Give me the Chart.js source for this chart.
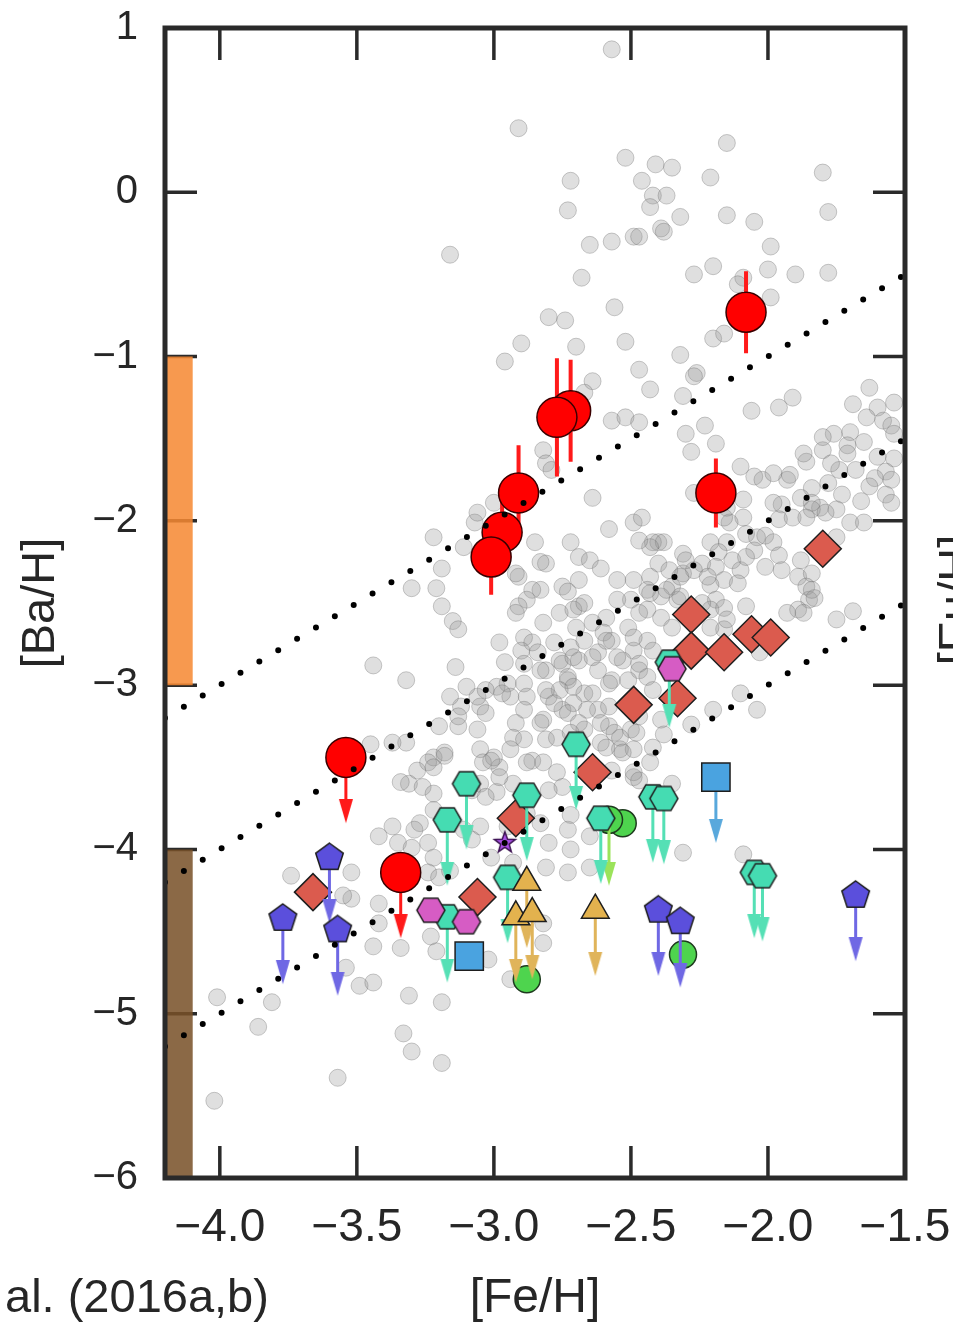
<!DOCTYPE html>
<html lang="en">
<head>
<meta charset="UTF-8">
<title>[Ba/H] vs [Fe/H]</title>
<script src="https://cdn.jsdelivr.net/npm/chart.js"></script>
<style>
  html, body { margin: 0; padding: 0; background: #fff; }
  #wrap { width: 953px; height: 1323px; }
</style>
</head>
<body>
<div id="wrap"><canvas id="chart" width="953" height="1323"></canvas></div>
<script>
// ---- axis ticks ----
const xTicks = [-4.0, -3.5, -3.0, -2.5, -2.0, -1.5];
const yTicks = [1, 0, -1, -2, -3, -4, -5, -6];

// ---- halo comparison stars ([Fe/H], [Ba/H]) ----
const comparisonStars = [
  [-2.57,0.87],[-2.91,0.39],[-2.15,0.30],[-2.52,0.21],[-2.72,0.07],[-2.41,0.17],[-2.35,0.15],[-2.46,0.07],[-2.21,0.09],[-1.80,0.12],
  [-2.42,-0.02],[-2.37,-0.02],[-2.43,-0.09],[-2.73,-0.11],[-2.32,-0.15],[-2.15,-0.14],[-2.05,-0.18],[-1.78,-0.12],[-2.65,-0.32],[-2.57,-0.30],
  [-2.49,-0.27],[-2.47,-0.27],[-2.39,-0.22],[-2.38,-0.24],[-1.99,-0.33],[-2.68,-0.52],[-2.27,-0.50],[-2.20,-0.45],[-2.00,-0.47],[-1.90,-0.50],
  [-1.78,-0.49],[-1.99,-0.64],[-2.09,-0.52],[-2.11,-0.56],[-2.80,-0.76],[-2.74,-0.78],[-2.56,-0.70],[-2.90,-0.92],[-2.70,-0.94],[-2.52,-0.91],
  [-2.32,-0.99],[-2.20,-0.89],[-2.16,-0.86],[-2.96,-1.03],[-2.47,-1.08],[-2.26,-1.10],[-3.16,-0.38],
  [-2.43,-1.20],[-2.31,-1.24],[-2.64,-1.15],[-2.67,-1.22],[-2.57,-1.39],[-2.52,-1.37],[-2.47,-1.40],[-2.30,-1.47],[-2.82,-1.57],[-2.81,-1.65],
  [-2.64,-1.86],[-2.58,-2.05],[-2.49,-2.01],[-3.22,-2.10],[-3.07,-2.01],[-2.85,-2.13],[-2.72,-2.13],[-2.40,-2.13],[-3.00,-1.89],[-3.06,-1.95],
  [-2.79,-1.69],[-2.27,-1.12],
  [-2.06,-1.33],[-1.96,-1.31],[-1.91,-1.25],[-2.23,-1.42],[-2.19,-1.53],[-1.63,-1.19],[-1.69,-1.29],[-1.60,-1.31],[-1.54,-1.28],[-1.64,-1.37],
  [-1.58,-1.39],[-1.55,-1.42],[-1.70,-1.46],[-1.76,-1.47],[-1.80,-1.57],[-1.86,-1.64],[-1.71,-1.54],[-1.65,-1.52],[-1.54,-1.47],[-1.60,-1.61],
  [-1.54,-1.62],[-1.57,-1.70],[-1.71,-1.59],[-1.74,-1.69],[-1.68,-1.69],[-1.61,-1.74],[-1.55,-1.75],[-1.63,-1.79],[-1.57,-1.84],[-1.55,-1.89],
  [-1.66,-1.88],[-1.73,-1.84],[-1.78,-1.77],[-1.84,-1.80],[-1.81,-1.92],[-1.75,-1.93],[-1.70,-2.01],[-1.65,-2.01],[-1.75,-2.10],[-1.93,-1.75],
  [-1.92,-1.72],[-1.88,-1.86],[-1.84,-1.93],[-1.79,-1.95],[-1.84,-1.89],[-1.95,-1.90],[-1.98,-1.89],[-1.96,-1.99],[-1.91,-1.98],[-1.86,-1.98],
  [-2.05,-1.73],[-2.02,-1.75],[-2.10,-1.67],[-1.87,-1.59],[-1.80,-1.49],[-1.77,-1.65],[-2.09,-1.98],[-2.08,-2.08],[-2.04,-2.10],[-2.01,-2.09],
  [-1.98,-2.13],[-2.05,-2.18],[-1.96,-2.21],[-2.01,-2.28],[-1.95,-2.30],[-1.88,-2.24],[-1.89,-2.34],[-1.84,-2.32],[-1.86,-2.40],[-1.85,-2.48],
  [-1.89,-2.54],[-1.93,-2.56],[-1.87,-2.56],[-1.83,-2.47],[-1.69,-2.55],[-2.14,-2.01],[-2.15,-2.13],[-2.21,-2.13],[-2.18,-2.19],[-2.24,-2.26],
  [-2.19,-2.28],[-2.13,-2.24],[-2.10,-2.30],[-2.08,-2.22],[-2.31,-2.20],[-2.31,-2.32],[-2.27,-2.30],[-2.16,-2.36],[-2.11,-2.38],[-2.21,-2.39],
  [-2.19,-2.48],[-2.21,-2.54],[-2.16,-2.53],[-2.24,-2.50],[-2.42,-2.13],[-2.38,-2.13],[-2.46,-1.98],[-2.40,-2.26],[-2.36,-2.30],[-2.43,-2.34],
  [-2.35,-2.40],[-2.39,-2.46],[-2.44,-2.42],[-2.44,-2.54],[-2.39,-2.59],[-2.33,-2.48],[-2.35,-2.65],[-2.16,-2.66],[-2.28,-1.58],[-2.16,-1.98],
  [-2.15,-1.92],[-2.09,-1.87],[-1.98,-1.71],[-2.27,-1.83],[-2.22,-2.34],[-2.30,-2.24],[-2.43,-2.16],[-2.47,-2.12],[-2.32,-2.34],[-2.37,-2.42],
  [-2.32,-2.46],[-1.84,-2.42],[-2.08,-2.52],[-2.15,-2.60],[-2.21,-2.65],[-2.03,-2.80],[-2.04,-3.15],[-2.10,-3.05],[-2.20,-3.15],[-2.39,-3.21],
  [-1.75,-2.60],
  [-2.69,-2.22],[-2.65,-2.24],[-2.61,-2.29],[-2.81,-2.26],[-2.83,-2.42],[-2.75,-2.40],[-2.69,-2.36],[-2.55,-2.36],[-2.49,-2.36],[-2.43,-2.44],
  [-2.50,-2.48],[-2.55,-2.48],[-2.59,-2.59],[-2.64,-2.62],[-2.60,-2.68],[-2.69,-2.52],[-2.70,-2.65],[-2.76,-2.56],[-2.82,-2.62],[-2.78,-2.74],
  [-2.72,-2.77],[-2.67,-2.73],[-2.62,-2.80],[-2.57,-2.73],[-2.49,-2.79],[-2.44,-2.73],[-2.53,-2.85],[-2.47,-2.91],[-2.57,-2.97],[-2.62,-2.91],
  [-2.69,-2.85],[-2.76,-2.85],[-2.81,-2.91],[-2.73,-2.97],[-2.67,-3.05],[-2.80,-3.07],[-2.75,-3.15],[-2.62,-3.15],[-2.82,-3.21],[-2.67,-3.27],
  [-2.58,-3.25],
  [-3.11,-2.16],[-3.19,-2.29],[-3.30,-2.41],[-3.21,-2.41],[-2.83,-2.25],[-2.86,-2.42],[-2.73,-2.43],[-2.91,-2.34],[-2.88,-2.48],[-2.91,-2.52],
  [-3.19,-2.52],[-3.15,-2.61],[-3.13,-2.66],[-2.71,-2.54],[-2.67,-2.50],[-2.98,-2.74],[-2.89,-2.71],[-2.86,-2.74],[-2.90,-2.79],[-2.84,-2.80],
  [-2.96,-2.86],[-2.89,-2.87],[-2.83,-2.91],[-3.14,-2.89],[-3.32,-2.97],[-2.75,-2.87],[-2.71,-2.83],[-2.64,-2.83],[-2.73,-2.95],[-2.76,-3.03],
  [-2.71,-3.01],[-2.81,-3.03],[-2.78,-3.11],[-2.71,-3.11],[-2.66,-3.15],[-2.73,-3.17],[-2.69,-3.23],[-2.61,-3.23],[-2.58,-3.13],[-2.89,-2.99],
  [-2.88,-3.07],[-2.89,-3.15],[-2.92,-3.23],[-2.95,-2.99],[-2.99,-3.01],[-3.05,-3.13],[-3.03,-3.17],[-3.12,-3.13],[-3.20,-3.25],[-3.13,-3.25],
  [-3.06,-3.27],[-2.93,-3.32],[-2.89,-3.33],[-2.83,-3.23],[-2.81,-3.33],[-2.77,-3.32],[-2.72,-3.29],[-2.61,-3.35],[-2.56,-3.29],[-2.50,-3.27],
  [-2.47,-3.19],[-2.48,-3.29],[-2.54,-3.39],[-2.49,-3.39],[-2.42,-3.38],[-2.43,-3.47],[-2.49,-3.56],[-2.57,-3.52],[-2.86,-3.46],[-2.82,-3.47],
  [-2.77,-3.53],[-2.75,-3.62],[-2.80,-3.64],[-2.98,-3.50],[-3.00,-3.44],[-3.05,-3.39],[-3.04,-3.47],[-2.94,-3.39],[-3.22,-3.44],[-3.18,-3.41],
  [-3.28,-3.52],[-3.24,-3.47],[-3.31,-3.60],[-3.26,-3.62],[-3.05,-3.60],[-2.99,-3.65],[-2.93,-3.60],[-3.22,-3.50],[-3.01,-3.46],[-3.06,-3.07],
  [-3.10,-3.01],[-3.03,-3.03],[-2.94,-3.07],[-3.13,-3.19],[-3.16,-3.07],[-3.32,-3.35],[-2.51,-2.65],[-2.47,-2.56],[-2.59,-2.73],[-2.55,-2.83],
  [-2.49,-2.71],[-2.47,-2.87],[-2.42,-2.79],[-2.44,-2.95],[-2.51,-2.97],[-2.58,-2.99],[-2.42,-3.03],[-2.54,-3.32],[-2.64,-3.05],
  [-3.44,-2.88],[-2.92,-2.32],[-2.92,-2.56],[-2.97,-3.05],
  [-3.45,-3.36],[-3.37,-3.35],[-3.18,-3.43],[-3.34,-3.59],[-3.22,-3.66],[-2.98,-3.56],[-3.08,-3.64],[-3.03,-3.68],[-2.88,-3.47],[-2.88,-3.78],
  [-2.95,-3.86],[-2.83,-3.84],[-2.73,-3.88],[-2.80,-3.96],[-2.72,-4.00],[-2.73,-4.14],[-2.81,-4.11],[-2.82,-4.45],[-2.93,-4.08],[-3.01,-4.05],
  [-3.08,-3.94],[-3.11,-3.88],[-3.05,-3.86],[-3.22,-3.76],[-3.27,-3.84],[-3.29,-3.88],[-3.37,-3.86],[-3.42,-3.92],[-3.35,-3.96],[-3.30,-3.99],
  [-3.24,-3.96],[-3.22,-4.05],[-3.24,-4.14],[-3.20,-4.17],[-3.16,-4.13],[-3.74,-4.16],[-3.52,-4.14],[-3.52,-4.30],[-3.42,-4.33],[-3.42,-4.45],
  [-3.55,-4.28],[-3.44,-4.59],[-3.54,-4.72],[-3.49,-4.83],[-3.44,-4.81],[-3.34,-4.60],[-3.31,-4.89],[-3.19,-4.93],[-3.23,-4.53],[-3.21,-4.62],
  [-3.02,-4.67],[-2.94,-4.79],[-2.82,-4.57],[-3.33,-5.12],[-3.30,-5.23],[-3.19,-5.30],[-3.57,-5.39],[-4.02,-5.53],[-3.86,-5.08],[-3.81,-4.93],
  [-4.01,-4.90],
  [-2.31,-4.02],[-2.09,-4.03],[-2.35,-3.60],[-2.65,-4.11],[-2.72,-3.79],[-2.65,-3.92],[-2.49,-3.53],[-2.53,-3.41],[-2.59,-3.38],[-2.47,-3.58],
  [-2.28,-3.24],[-2.38,-3.30]
];

// ---- red stars: detections with errors ([Fe/H], [Ba/H], err) and upper limits ----
const redDetections = [
  [-2.08,-0.73,0.25],[-2.72,-1.33,0.31],[-2.77,-1.37,0.36],[-2.91,-1.83,0.29],
  [-2.97,-2.07,0.20],[-3.01,-2.22,0.23],[-2.19,-1.83,0.21]
];
const redLimits = [[-3.54,-3.44],[-3.34,-4.14]];

// ---- literature dwarf galaxy stars ----
const diamondStars = [
  [-2.28,-2.57],[-2.28,-2.79],[-2.16,-2.80],[-2.06,-2.69],[-1.99,-2.71],[-1.80,-2.17],
  [-2.49,-3.12],[-2.33,-3.08],[-2.64,-3.53],[-2.92,-3.81],[-3.06,-4.29],[-3.66,-4.26]
];
const tealHexLimits = [
  [-3.10,-3.60],[-3.17,-3.82],[-2.88,-3.67],[-2.95,-4.17],[-3.17,-4.41],[-2.70,-3.36],
  [-2.36,-2.86],[-2.42,-3.68],[-2.38,-3.69],[-2.61,-3.81],[-2.05,-4.14],[-2.02,-4.16]
];
const magentaHex = [[-2.35,-2.90],[-3.23,-4.37],[-3.10,-4.44]];
const pentagonLimits = [[-3.60,-4.05],[-3.77,-4.42],[-3.57,-4.49],[-2.40,-4.37],[-2.32,-4.44],[-1.68,-4.28]];
const triangleLimits = [[-2.88,-4.20],[-2.92,-4.41],[-2.86,-4.39],[-2.63,-4.37]];
const squareLimits = [[-2.19,-3.56]];
const squareStars = [[-3.09,-4.65]];
const greenLimits = [[-2.58,-3.82]];
const greenStars = [[-2.53,-3.84],[-2.31,-4.64],[-2.88,-4.79]];
const starMarker = [[-2.96,-3.96]];

// ---- dotted reference lines (start, end) ----
const trendLines = [
  [[-4.2,-3.2],[-1.5,-0.5]],
  [[-4.2,-4.2],[-1.5,-1.5]],
  [[-4.2,-5.2],[-1.5,-2.5]]
];
// ---- yield ranges drawn at the left edge ----
const rangeFe = -4.15;
const orangeRange = [-3, -1];
const brownRange = [-6, -4];

// ---- styles ----
const FONT = "'Liberation Sans', Arial, Helvetica, sans-serif";
const INK = '#262626';
const arrowLen = 0.4;
const tickLen = 32;

function polyStyle(sides, r, start, fill, stroke, inner) {
  const size = Math.ceil(2 * r + 4);
  const c = document.createElement('canvas');
  c.width = c.height = size;
  const g = c.getContext('2d');
  const m = size / 2;
  const n = inner ? sides * 2 : sides;
  g.beginPath();
  for (let i = 0; i < n; i++) {
    const rr = inner && i % 2 ? inner : r;
    const a = start + i * 2 * Math.PI / n;
    const px = m + rr * Math.cos(a), py = m + rr * Math.sin(a);
    if (i === 0) g.moveTo(px, py); else g.lineTo(px, py);
  }
  g.closePath();
  g.fillStyle = fill;
  g.fill();
  g.lineWidth = 1.5;
  g.strokeStyle = stroke;
  g.stroke();
  return c;
}

// arrow head: tip at the image centre, body above it
function arrowHead(color) {
  const w = 14, h = 24;
  const c = document.createElement('canvas');
  c.width = w + 2; c.height = 2 * h;
  const g = c.getContext('2d');
  g.beginPath();
  g.moveTo(1, 0); g.lineTo(w + 1, 0); g.lineTo(w / 2 + 1, h);
  g.closePath();
  g.fillStyle = color;
  g.fill();
  return c;
}

const pts = arr => arr.map(p => ({x: p[0], y: p[1]}));

function stemData(arr) {
  const out = [];
  arr.forEach(([x, y]) => {
    out.push({x, y}, {x, y: y - arrowLen + 0.1}, {x, y: null});
  });
  return out;
}
const headData = arr => arr.map(([x, y]) => ({x, y: y - arrowLen}));

function errData(arr) {
  const out = [];
  arr.forEach(([x, y, e]) => out.push({x, y: y + e}, {x, y: y - e}, {x, y: null}));
  return out;
}

function limitSets(arr, color, order) {
  return [
    {data: stemData(arr), showLine: true, borderColor: color, borderWidth: 3, pointRadius: 0, order: order + 1},
    {data: headData(arr), pointStyle: arrowHead(color), pointRadius: 10, order: order}
  ];
}

const TEAL = '#45dcb2', VIOLET = '#5b4fdc', GOLD = '#e3b24e', BLUE = '#4aa3e0',
      GREEN = '#4ed44e', MAGENTA = '#d65cc4', SALMON = '#db5b4e', EDGE = '#1e1e1e';

const hexTeal = polyStyle(6, 14, 0, TEAL, EDGE);
const hexMag = polyStyle(6, 14, 0, MAGENTA, EDGE);
const pentagon = polyStyle(5, 14.5, -Math.PI / 2, VIOLET, EDGE);
const starStyle = polyStyle(5, 11, -Math.PI / 2, '#a950e6', '#3a1050', 4.5);

const datasets = [
  // dotted lines on top
  ...trendLines.map(l => ({
    data: pts(l), showLine: true, borderColor: '#000', borderWidth: 6,
    borderDash: [0, 22], borderCapStyle: 'round', pointRadius: 0, order: 1
  })),
  // red stars
  {data: pts(redDetections), pointStyle: 'circle', pointRadius: 20, backgroundColor: '#ff0000',
   borderColor: '#3a0000', borderWidth: 1.5, order: 5},
  {data: pts(redLimits), pointStyle: 'circle', pointRadius: 20, backgroundColor: '#ff0000',
   borderColor: '#3a0000', borderWidth: 1.5, order: 5},
  {data: pts(starMarker), pointStyle: starStyle, pointRadius: 10, order: 8},
  {data: pts(magentaHex), pointStyle: hexMag, pointRadius: 10, order: 9},
  {data: pts(pentagonLimits), pointStyle: pentagon, pointRadius: 10, order: 9},
  {data: pts(triangleLimits), pointStyle: 'triangle', pointRadius: 16, backgroundColor: GOLD,
   borderColor: EDGE, borderWidth: 1.5, order: 9},
  {data: pts(squareLimits.concat(squareStars)), pointStyle: 'rect', pointRadius: 20, backgroundColor: BLUE,
   borderColor: EDGE, borderWidth: 1.5, order: 9},
  {data: pts(tealHexLimits), pointStyle: hexTeal, pointRadius: 10, order: 10},
  ...limitSets(redLimits, '#ff1a1a', 12),
  ...limitSets(pentagonLimits, '#6f68e4', 12),
  ...limitSets(tealHexLimits, '#55e0b5', 12),
  ...limitSets(triangleLimits, '#e0b45a', 12),
  ...limitSets(squareLimits, '#58a8dc', 12),
  ...limitSets(greenLimits, '#9be35a', 12),
  {data: pts(diamondStars), pointStyle: 'rectRot', pointRadius: 18.5, backgroundColor: SALMON,
   borderColor: EDGE, borderWidth: 1.5, order: 15},
  {data: pts(greenStars.concat(greenLimits)), pointStyle: 'circle', pointRadius: 13.5, backgroundColor: GREEN,
   borderColor: '#1e3a1e', borderWidth: 1.5, order: 16},
  {data: errData(redDetections), showLine: true, borderColor: '#ff1a1a', borderWidth: 4, pointRadius: 0, order: 17},
  // yield ranges
  {data: [{x: rangeFe, y: orangeRange[0]}, {x: rangeFe, y: orangeRange[1]}], showLine: true,
   borderColor: 'rgba(246,136,50,0.86)', borderWidth: 28, borderCapStyle: 'butt', pointRadius: 0, order: 18},
  {data: [{x: rangeFe, y: brownRange[0]}, {x: rangeFe, y: brownRange[1]}], showLine: true,
   borderColor: 'rgba(120,80,40,0.86)', borderWidth: 28, borderCapStyle: 'butt', pointRadius: 0, order: 18},
  // comparison sample
  {data: pts(comparisonStars), pointStyle: 'circle', pointRadius: 8.5,
   backgroundColor: 'rgba(150,150,150,0.3)', borderColor: 'rgba(105,105,105,0.35)', borderWidth: 1, order: 20}
];

const minus = v => (v < 0 ? '\u2212' : '');

// keep the plot box where the figure has it: no extra room for edge labels
function noEdgePadding(s) {
  s.paddingTop = 0; s.paddingBottom = 0; s.paddingLeft = 0; s.paddingRight = 0;
}

const framePlugin = {
  id: 'frame',
  beforeDatasetsDraw(chart) {
    const {ctx, chartArea: a, scales: {x, y}} = chart;
    ctx.save();
    ctx.strokeStyle = '#2a2a2a';
    ctx.lineWidth = 3.5;
    ctx.beginPath();
    xTicks.forEach(v => {
      const px = x.getPixelForValue(v);
      ctx.moveTo(px, a.bottom); ctx.lineTo(px, a.bottom - tickLen);
      ctx.moveTo(px, a.top); ctx.lineTo(px, a.top + tickLen);
    });
    yTicks.forEach(v => {
      const py = y.getPixelForValue(v);
      ctx.moveTo(a.left, py); ctx.lineTo(a.left + tickLen, py);
      ctx.moveTo(a.right, py); ctx.lineTo(a.right - tickLen, py);
    });
    ctx.stroke();
    ctx.restore();
  },
  afterDatasetsDraw(chart) {
    const {ctx, chartArea: a} = chart;
    ctx.save();
    ctx.strokeStyle = '#2a2a2a';
    ctx.lineWidth = 5;
    ctx.strokeRect(a.left, a.top, a.right - a.left, a.bottom - a.top);
    ctx.restore();
  },
  afterDraw(chart) {
    const {ctx} = chart;
    ctx.save();
    ctx.fillStyle = INK;
    ctx.font = '47px ' + FONT;
    ctx.textBaseline = 'alphabetic';
    ctx.textAlign = 'left';
    ctx.fillText('al. (2016a,b)', 5, 1312);
    // label of the neighbouring panel, cut by the figure edge
    ctx.translate(958, 600);
    ctx.rotate(-Math.PI / 2);
    ctx.textAlign = 'center';
    ctx.textBaseline = 'middle';
    ctx.fillText('[Eu/H]', 0, 0);
    ctx.restore();
  }
};

new Chart(document.getElementById('chart'), {
  type: 'scatter',
  data: {datasets},
  options: {
    responsive: false,
    animation: false,
    devicePixelRatio: 1,
    events: [],
    layout: {padding: {top: 28, right: 48, left: 0, bottom: 0}},
    plugins: {legend: {display: false}, tooltip: {enabled: false}},
    scales: {
      x: {
        type: 'linear', min: -4.2, max: -1.5,
        afterBuildTicks: s => { s.ticks = xTicks.map(v => ({value: v})); },
        afterFit: s => { s.height = 145; noEdgePadding(s); },
        grid: {display: false, drawTicks: false},
        border: {display: false},
        ticks: {
          padding: 23, color: INK, maxRotation: 0, autoSkip: false,
          font: {family: FONT, size: 46},
          callback: v => minus(v) + Math.abs(v).toFixed(1)
        },
        title: {
          display: true, text: '[Fe/H]', color: INK,
          font: {family: FONT, size: 48, lineHeight: 1},
          padding: {top: 0, bottom: 0}
        }
      },
      y: {
        type: 'linear', min: -6, max: 1,
        afterBuildTicks: s => { s.ticks = yTicks.map(v => ({value: v})); },
        afterFit: s => { s.width = 165; noEdgePadding(s); },
        grid: {display: false, drawTicks: false},
        border: {display: false},
        ticks: {
          padding: 27, color: INK, autoSkip: false,
          font: {family: FONT, size: 40},
          callback: v => minus(v) + Math.abs(v)
        },
        title: {
          display: true, text: '[Ba/H]', color: INK,
          font: {family: FONT, size: 47, lineHeight: 1},
          padding: {top: 18, bottom: 0}
        }
      }
    }
  },
  plugins: [framePlugin]
});
</script>
</body>
</html>
